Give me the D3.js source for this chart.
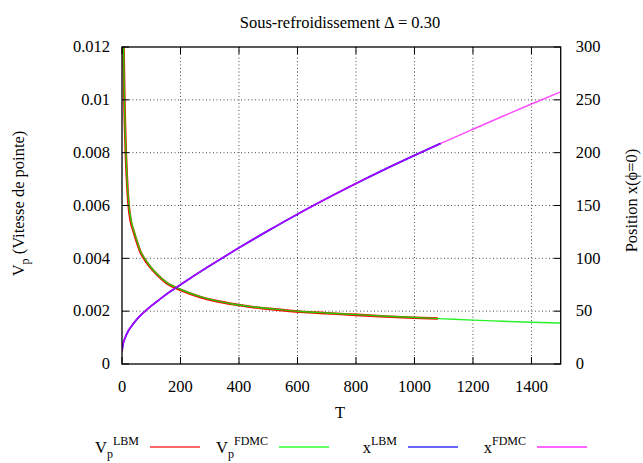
<!DOCTYPE html>
<html>
<head>
<meta charset="utf-8">
<script src="https://cdn.jsdelivr.net/npm/d3@7"></script>
<style>
  body { margin: 0; background: #fff; }
</style>
</head>
<body>
<script>
// tip speed (left axis)
const tFdmcV = [5, 6, 8, 10, 13, 16, 22, 30, 39, 50, 62, 80, 96, 120, 153, 199, 267, 320, 382, 450, 520, 610, 700, 800, 900, 1000, 1100, 1200, 1300, 1400, 1500];
const vpFdmc = [0.0124, 0.0116, 0.0102, 0.0092, 0.0081, 0.0073, 0.0062, 0.0055, 0.0051, 0.0047, 0.0043, 0.00395, 0.0037, 0.0034, 0.00308, 0.00283, 0.00255, 0.0024, 0.00226, 0.00216, 0.00208, 0.00199, 0.00193, 0.00187, 0.00181, 0.00176, 0.00171, 0.00166, 0.00162, 0.00158, 0.00155];
const tLbmV = [4, 6, 8, 10, 13, 16, 22, 30, 39, 50, 62, 80, 96, 120, 153, 199, 267, 320, 382, 450, 520, 610, 700, 800, 900, 1000, 1080];
const vpLbm = [0.0126, 0.0115, 0.0101, 0.0091, 0.0080, 0.0072, 0.0061, 0.0054, 0.00505, 0.00465, 0.00427, 0.00392, 0.00368, 0.00338, 0.00306, 0.00281, 0.00254, 0.00239, 0.00226, 0.00215, 0.00207, 0.00198, 0.00192, 0.00186, 0.0018, 0.00175, 0.00172];

// tip position (right axis)
const tFdmcX = [0, 3, 11, 20, 33, 50, 65, 79, 100, 130, 160, 200, 250, 300, 350, 400, 450, 500, 600, 700, 800, 900, 1000, 1100, 1200, 1300, 1400, 1500];
const xFdmc = [12, 18, 25, 30.5, 36, 42, 46.5, 50, 55, 61.4, 67.6, 75, 84.2, 93, 101.6, 110, 118.2, 126.2, 141.8, 156.6, 170.8, 184.4, 197.4, 210, 222.2, 234.2, 246, 257.6];
const tLbmX = [0, 3, 11, 20, 33, 50, 65, 79, 100, 130, 160, 200, 250, 300, 350, 400, 450, 500, 600, 700, 800, 900, 1000, 1090];
const xLbm = [12, 18, 25, 30.5, 36, 42, 46.5, 50, 55, 61.4, 67.6, 75, 84.2, 93, 101.6, 110, 118.2, 126.2, 141.8, 156.6, 170.8, 184.4, 197.4, 208.8];

const xTicks = [0, 200, 400, 600, 800, 1000, 1200, 1400];
const yTicks = [0, 0.002, 0.004, 0.006, 0.008, 0.01, 0.012];
const y2Ticks = [0, 50, 100, 150, 200, 250, 300];

const W = 643, H = 463;
const mLeft = 122, mRight = 560.7, mTop = 47, mBottom = 364;

const svg = d3.select("body").append("svg")
  .attr("width", W).attr("height", H)
  .style("font-family", "'Liberation Serif', 'Times New Roman', serif")
  .attr("font-size", 16.5);

const x = d3.scaleLinear().domain([0, 1500]).range([mLeft, mRight]);
const y = d3.scaleLinear().domain([0, 0.012]).range([mBottom, mTop]);
const y2 = d3.scaleLinear().domain([0, 300]).range([mBottom, mTop]);

svg.append("clipPath").attr("id", "clip")
  .append("rect").attr("x", mLeft).attr("y", mTop)
  .attr("width", mRight - mLeft).attr("height", mBottom - mTop);

// grid
const grid = svg.append("g").attr("stroke", "#222").attr("stroke-width", 1)
  .attr("stroke-dasharray", "1,2.5").attr("opacity", 0.8);
grid.selectAll(".gx").data(xTicks.slice(1)).join("line")
  .attr("x1", d => x(d)).attr("x2", d => x(d)).attr("y1", mTop).attr("y2", mBottom);
grid.selectAll(".gy").data(yTicks.slice(1, -1)).join("line")
  .attr("x1", mLeft).attr("x2", mRight).attr("y1", d => y(d)).attr("y2", d => y(d));

// curves
const plot = svg.append("g").attr("clip-path", "url(#clip)").attr("fill", "none");
const lineV = (ts, vs) => d3.line().curve(d3.curveMonotoneX).x((d, i) => x(ts[i])).y(d => y(d))(vs);
const lineX = (ts, vs) => d3.line().curve(d3.curveMonotoneX).x((d, i) => x(ts[i])).y(d => y2(d))(vs);

plot.append("path").attr("d", lineV(tLbmV, vpLbm)).attr("stroke", "#ff0000").attr("stroke-width", 2.6);
plot.append("path").attr("d", lineV(tFdmcV, vpFdmc)).attr("stroke", "#00ee00").attr("stroke-width", 1.4).attr("opacity", 0.85);
plot.append("path").attr("d", lineX(tLbmX, xLbm)).attr("stroke", "#0000ff").attr("stroke-width", 1.8);
plot.append("path").attr("d", lineX(tFdmcX, xFdmc)).attr("stroke", "#ff00ff").attr("stroke-width", 1.5).attr("opacity", 0.7);

// ticks (inward)
const tk = svg.append("g").attr("stroke", "#000").attr("stroke-width", 1);
const tl = 7;
tk.selectAll(".tb").data(xTicks).join("line")
  .attr("x1", d => x(d)).attr("x2", d => x(d)).attr("y1", mBottom).attr("y2", mBottom - tl);
tk.selectAll(".tt").data(xTicks).join("line")
  .attr("x1", d => x(d)).attr("x2", d => x(d)).attr("y1", mTop).attr("y2", mTop + tl);
tk.selectAll(".tl").data(yTicks).join("line")
  .attr("x1", mLeft).attr("x2", mLeft + tl).attr("y1", d => y(d)).attr("y2", d => y(d));
tk.selectAll(".tr").data(y2Ticks).join("line")
  .attr("x1", mRight).attr("x2", mRight - tl).attr("y1", d => y2(d)).attr("y2", d => y2(d));

// border
svg.append("rect").attr("x", mLeft).attr("y", mTop)
  .attr("width", mRight - mLeft).attr("height", mBottom - mTop)
  .attr("fill", "none").attr("stroke", "#000").attr("stroke-width", 1.3);

// tick labels
svg.selectAll(".xl").data(xTicks).join("text")
  .attr("x", d => x(d)).attr("y", mBottom + 28).attr("text-anchor", "middle")
  .text(d => d);
svg.selectAll(".yl").data(yTicks).join("text")
  .attr("x", mLeft - 12).attr("y", d => y(d)).attr("dy", "0.32em").attr("text-anchor", "end")
  .text(d => d3.format("")(d));
svg.selectAll(".y2l").data(y2Ticks).join("text")
  .attr("x", mRight + 15).attr("y", d => y2(d)).attr("dy", "0.32em").attr("text-anchor", "start")
  .text(d => d);

// titles
svg.append("text").attr("x", 340).attr("y", 28).attr("text-anchor", "middle")
  .text("Sous-refroidissement \u0394 = 0.30");
svg.append("text").attr("x", 340).attr("y", 418).attr("text-anchor", "middle").text("T");

const yl = svg.append("text").attr("text-anchor", "middle")
  .attr("transform", `translate(24,${(mTop + mBottom) / 2 - 2}) rotate(-90)`);
yl.append("tspan").text("V");
yl.append("tspan").attr("dy", 5).attr("font-size", 12).text("p");
yl.append("tspan").attr("dy", -5).text(" (Vitesse de pointe)");

svg.append("text").attr("text-anchor", "middle")
  .attr("transform", `translate(637,${(mTop + mBottom) / 2 - 5}) rotate(-90)`)
  .text("Position x(\u03d5=0)");

// legend
const legendItems = [
  { base: "V", sub: "p", sup: "LBM", color: "#ff0000" },
  { base: "V", sub: "p", sup: "FDMC", color: "#00ff00" },
  { base: "x", sub: "", sup: "LBM", color: "#0000ff" },
  { base: "x", sub: "", sup: "FDMC", color: "#ff00ff" }
];
const lg = svg.append("g");
legendItems.forEach((d, i) => {
  const x0 = 150 + i * 129;
  const t = lg.append("text").attr("x", x0 - 11).attr("y", 453).attr("text-anchor", "end");
  t.append("tspan").text(d.base);
  if (d.sub) {
    t.append("tspan").attr("dy", 5).attr("font-size", 12).text(d.sub);
    t.append("tspan").attr("dy", -13).attr("font-size", 12).text(d.sup);
  } else {
    t.append("tspan").attr("dy", -8).attr("font-size", 12).text(d.sup);
  }
  lg.append("line").attr("x1", x0).attr("x2", x0 + 50).attr("y1", 447).attr("y2", 447)
    .attr("stroke", d.color).attr("stroke-width", 1.5).attr("opacity", 0.8);
});
</script>
</body>
</html>
